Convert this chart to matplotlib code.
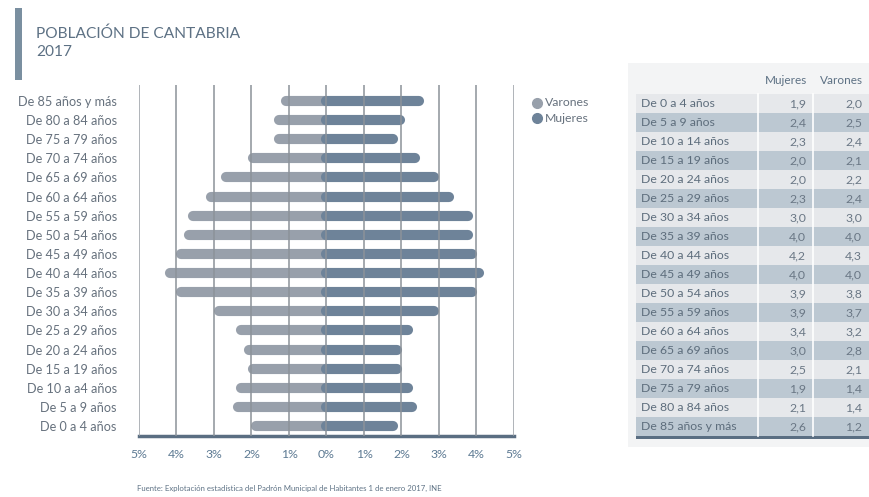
import matplotlib
matplotlib.use("Agg")
import matplotlib.pyplot as plt
from matplotlib.patches import Rectangle
from matplotlib.ticker import FuncFormatter

plt.rcParams['font.family'] = ['Lato', 'DejaVu Sans']

# ---- data ----
table_groups = ["De 0 a 4 años", "De 5 a 9 años", "De 10 a 14 años", "De 15 a 19 años",
                "De 20 a 24 años", "De 25 a 29 años", "De 30 a 34 años", "De 35 a 39 años",
                "De 40 a 44 años", "De 45 a 49 años", "De 50 a 54 años", "De 55 a 59 años",
                "De 60 a 64 años", "De 65 a 69 años", "De 70 a 74 años", "De 75 a 79 años",
                "De 80 a 84 años", "De 85 años y más"]
chart_labels = ["De 0 a 4 años", "De 5 a 9 años", "De 10 a a4 años", "De 15 a 19 años",
                "De 20 a 24 años", "De 25 a 29 años", "De 30 a 34 años", "De 35 a 39 años",
                "De 40 a 44 años", "De 45 a 49 años", "De 50 a 54 años", "De 55 a 59 años",
                "De 60 a 64 años", "De 65 a 69 años", "De 70 a 74 años", "De 75 a 79 años",
                "De 80 a 84 años", "De 85 años y más"]
mujeres = [1.9, 2.4, 2.3, 2.0, 2.0, 2.3, 3.0, 4.0, 4.2, 4.0, 3.9, 3.9, 3.4, 3.0, 2.5, 1.9, 2.1, 2.6]
varones = [2.0, 2.5, 2.4, 2.1, 2.2, 2.4, 3.0, 4.0, 4.3, 4.0, 3.8, 3.7, 3.2, 2.8, 2.1, 1.4, 1.4, 1.2]
x_ticks = [-5, -4, -3, -2, -1, 0, 1, 2, 3, 4, 5]

title = "POBLACIÓN DE CANTABRIA\n2017"
source = "Fuente: Explotación estadística del Padrón Municipal de Habitantes 1 de enero 2017, INE"

# ---- colors ----
c_var = "#98a0ab"
c_muj = "#6e8399"
c_text = "#66717d"
c_title = "#5d7184"
c_dark = "#5a6e82"

W, H = 870, 497
fig = plt.figure(figsize=(W / 100, H / 100), dpi=100)
fig.patch.set_facecolor("white")

# overlay axes in pixel coordinates for decorations and table
ov = fig.add_axes([0, 0, 1, 1], zorder=0)
ov.set_xlim(0, W)
ov.set_ylim(H, 0)
ov.axis("off")

# title bar and title
ov.add_patch(Rectangle((15, 8), 7, 72, color="#7a8fa0", lw=0))
ov.text(36, 27, title, ha="left", va="top", fontsize=11.2, color=c_title,
        linespacing=1.35)

# ---- main chart ----
ax = fig.add_axes([139 / W, 1 - 436 / H, (514 - 139) / W, (436 - 85) / H], zorder=2)
ax.set_facecolor("none")
n = len(chart_labels)
ys = list(range(n))
ax.set_xlim(-5, 5)
ax.set_ylim(-0.52, n - 1 + 16 / 19.1)

for x in x_ticks:
    ax.axvline(x, color="#8c9299" if x not in (-5, 5) else "#9a9fa5", lw=1.1, zorder=3)

lw_bar = 7.3
for y, v, m in zip(ys, varones, mujeres):
    ax.plot([-v + 0.13, 0], [y, y], color=c_var, lw=lw_bar, solid_capstyle="round", zorder=2)
    ax.plot([0, m - 0.13], [y, y], color=c_muj, lw=lw_bar, solid_capstyle="round", zorder=2)
    ax.plot([-0.02, 0.02], [y, y], color=c_muj, lw=lw_bar, solid_capstyle="butt", zorder=2)

ax.set_yticks(ys)
ax.set_yticklabels(chart_labels, fontsize=9.1, color=c_text)
ax.set_xticks(x_ticks)
ax.xaxis.set_major_formatter(FuncFormatter(lambda v, p: f"{abs(int(round(v)))}%"))
ax.tick_params(axis="x", length=0, pad=9, labelsize=8.8, labelcolor="#5d7a93")
ax.tick_params(axis="y", length=0, pad=16)
for s in ("top", "right", "left"):
    ax.spines[s].set_visible(False)
ax.spines["bottom"].set_color(c_dark)
ax.spines["bottom"].set_linewidth(2.5)

# legend
leg_items = [("Varones", c_var), ("Mujeres", c_muj)]
for i, (name, col) in enumerate(leg_items):
    yy = 103 + i * 15
    ov.plot([537], [yy], "o", ms=7, color=col)
    ov.text(545, yy, name, ha="left", va="center", fontsize=8.8, color=c_text)

# ---- table ----
ov.add_patch(Rectangle((628, 63), W - 628, 384, color="#f3f4f5", lw=0))
ov.text(786, 80, "Mujeres", ha="center", va="center", fontsize=8.5, color=c_title)
ov.text(841, 80, "Varones", ha="center", va="center", fontsize=8.5, color=c_title)
row_top = 93.5
row_h = 19.0
x0, x1 = 636, 870
for i, (g, m, v) in enumerate(zip(table_groups, mujeres, varones)):
    top = row_top + i * row_h
    col = "#e6e8eb" if i % 2 == 0 else "#bcc8d2"
    ov.add_patch(Rectangle((x0, top), x1 - x0, row_h, color=col, lw=0))
    cy = top + row_h / 2 + 0.5
    ov.text(641, cy, g, ha="left", va="center", fontsize=8.8, color="#5d6d7c")
    ov.text(806, cy, f"{m:.1f}".replace(".", ","), ha="right", va="center", fontsize=8.8, color="#6a7785")
    ov.text(862, cy, f"{v:.1f}".replace(".", ","), ha="right", va="center", fontsize=8.8, color="#6a7785")
table_bottom = row_top + n * row_h
ov.plot([758, 758], [row_top, table_bottom], color="white", lw=1.2)
ov.plot([813, 813], [row_top, table_bottom], color="white", lw=1.2)
ov.add_patch(Rectangle((x0, table_bottom), x1 - x0, 3.5, color=c_dark, lw=0))

# source
ov.text(137, 488, source, ha="left", va="center", fontsize=5.6, color="#5d7184")

fig.savefig("out.png", dpi=100)
